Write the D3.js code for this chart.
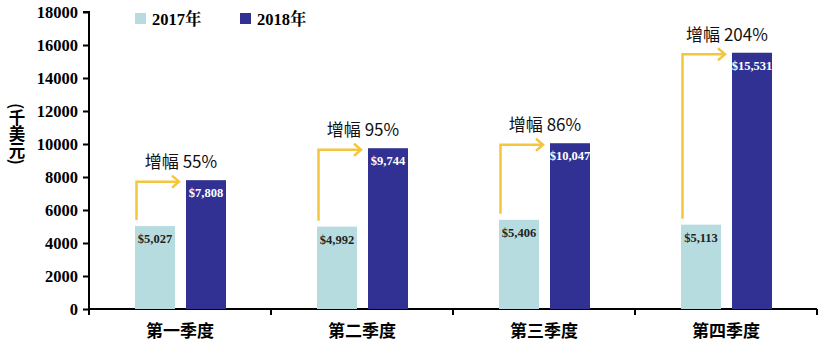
<!DOCTYPE html>
<html>
<head>
<meta charset="utf-8">
<script src="https://cdn.jsdelivr.net/npm/d3@7/dist/d3.min.js"></script>
<style>
  html, body { margin: 0; padding: 0; background: #fff; }
  svg { display: block; }
</style>
</head>
<body>
<svg id="chart" width="824" height="342"></svg>
<script>
// Quarterly revenue (thousand USD), 2017 vs 2018
const quarters = ["第一季度", "第二季度", "第三季度", "第四季度"];
const values2017 = [5027, 4992, 5406, 5113];
const values2018 = [7808, 9744, 10047, 15531];
const growthLabels = ["增幅 55%", "增幅 95%", "增幅 86%", "增幅 204%"];
const seriesNames = ["2017年", "2018年"];
const yTicks = [0, 2000, 4000, 6000, 8000, 10000, 12000, 14000, 16000, 18000];

const colors = { y2017: "#b6dce0", y2018: "#303192", arrow: "#f4c63e" };
const serif = "'Liberation Serif', 'Times New Roman', 'Noto Serif CJK SC', serif";
const cjk = "'Noto Sans CJK SC', 'Noto Sans', sans-serif";

const svg = d3.select("#chart");
const margin = { left: 89, right: 7, top: 12, bottom: 33 };
const W = 824, H = 342;

const x = d3.scaleBand().domain(quarters).range([margin.left, W - margin.right]).paddingInner(0).paddingOuter(0);
const y = d3.scaleLinear().domain([0, 18000]).range([H - margin.bottom, margin.top]);

// position of the two bars inside each quarter band
const sub = d3.scaleBand().domain(["a", "b"]).range([46, 137]).paddingInner(0.216).paddingOuter(0);
const bw = sub.bandwidth();

// Y axis
const yAxis = d3.axisLeft(y).tickValues(yTicks).tickSize(6).tickPadding(5).tickFormat(d3.format("d"));
const gy = svg.append("g").attr("transform", `translate(${margin.left},0)`).call(yAxis);
gy.select(".domain").attr("stroke", "#000").attr("stroke-width", 2).attr("d", `M-6,${y(18000)}H0V${y(0)}`);
gy.selectAll(".tick line").attr("stroke", "#000").attr("stroke-width", 2);
gy.selectAll(".tick text").attr("font-family", serif).attr("font-weight", "bold").attr("font-size", 16.5).attr("fill", "#000");

// X axis
const gx = svg.append("g").attr("transform", `translate(0,${y(0)})`);
gx.append("line").attr("x1", margin.left).attr("x2", W - margin.right).attr("stroke", "#000").attr("stroke-width", 2);
const bounds = quarters.map(q => x(q) + x.bandwidth());
gx.selectAll("line.sep").data(bounds).join("line").attr("class", "sep")
  .attr("x1", d => d).attr("x2", d => d).attr("y1", 0).attr("y2", 6)
  .attr("stroke", "#000").attr("stroke-width", 2);
gx.append("line").attr("x1", margin.left).attr("x2", margin.left).attr("y1", 0).attr("y2", 6).attr("stroke", "#000").attr("stroke-width", 2);
gx.selectAll("text").data(quarters).join("text")
  .attr("x", d => x(d) + x.bandwidth() / 2).attr("y", 28)
  .attr("text-anchor", "middle").attr("font-family", cjk).attr("font-weight", "bold").attr("font-size", 17)
  .text(d => d);

// Y axis title
svg.append("text")
  .attr("x", 17).attr("y", 103)
  .attr("font-family", cjk).attr("font-weight", "bold").attr("font-size", 16.5)
  .style("writing-mode", "vertical-rl")
  .text("(千美元)");

// Bars
const data = quarters.map((q, i) => ({ q, a: values2017[i], b: values2018[i], g: growthLabels[i] }));

const groups = svg.append("g").selectAll("g").data(data).join("g")
  .attr("transform", d => `translate(${x(d.q)},0)`);

groups.append("rect").attr("x", sub("a")).attr("width", bw)
  .attr("y", d => y(d.a)).attr("height", d => y(0) - y(d.a)).attr("fill", colors.y2017);
groups.append("rect").attr("x", sub("b")).attr("width", bw)
  .attr("y", d => y(d.b)).attr("height", d => y(0) - y(d.b)).attr("fill", colors.y2018);

const money = v => "$" + d3.format(",")(v);
groups.append("text").attr("x", sub("a") + bw / 2).attr("y", d => y(d.a) + 17)
  .attr("text-anchor", "middle").attr("font-family", serif).attr("font-weight", "bold").attr("font-size", 12.5)
  .attr("fill", "#222").text(d => money(d.a));
groups.append("text").attr("x", sub("b") + bw / 2).attr("y", d => y(d.b) + 17)
  .attr("text-anchor", "middle").attr("font-family", serif).attr("font-weight", "bold").attr("font-size", 12.5)
  .attr("fill", "#fff").text(d => money(d.b));

// Growth arrows
groups.append("path")
  .attr("d", d => {
    const x0 = sub("a") + 1.5, yStart = y(d.a) - 6, yTop = y(d.b) + 1.5, xEnd = sub("b") - 7;
    return `M${x0},${yStart}V${yTop}H${xEnd}`;
  })
  .attr("fill", "none").attr("stroke", colors.arrow).attr("stroke-width", 2.5);
groups.append("path")
  .attr("d", d => {
    const yTop = y(d.b) + 1.5, xEnd = sub("b") - 7;
    return `M${xEnd - 7},${yTop - 6}L${xEnd},${yTop}L${xEnd - 7},${yTop + 6}`;
  })
  .attr("fill", "none").attr("stroke", colors.arrow).attr("stroke-width", 2.5).attr("stroke-linejoin", "miter");

groups.append("text").attr("x", x.bandwidth() / 2 + 1).attr("y", d => y(d.b) - 12)
  .attr("text-anchor", "middle").attr("font-family", cjk).attr("font-size", 17).attr("fill", "#111")
  .text(d => d.g);

// Legend
const legend = svg.append("g").selectAll("g").data(seriesNames).join("g")
  .attr("transform", (d, i) => `translate(${135 + i * 105},13)`);
legend.append("rect").attr("width", 11).attr("height", 11).attr("fill", (d, i) => i ? colors.y2018 : colors.y2017);
legend.append("text").attr("x", 17).attr("y", 11.5)
  .attr("font-family", serif).attr("font-weight", "bold").attr("font-size", 16.5).text(d => d);
</script>
</body>
</html>
